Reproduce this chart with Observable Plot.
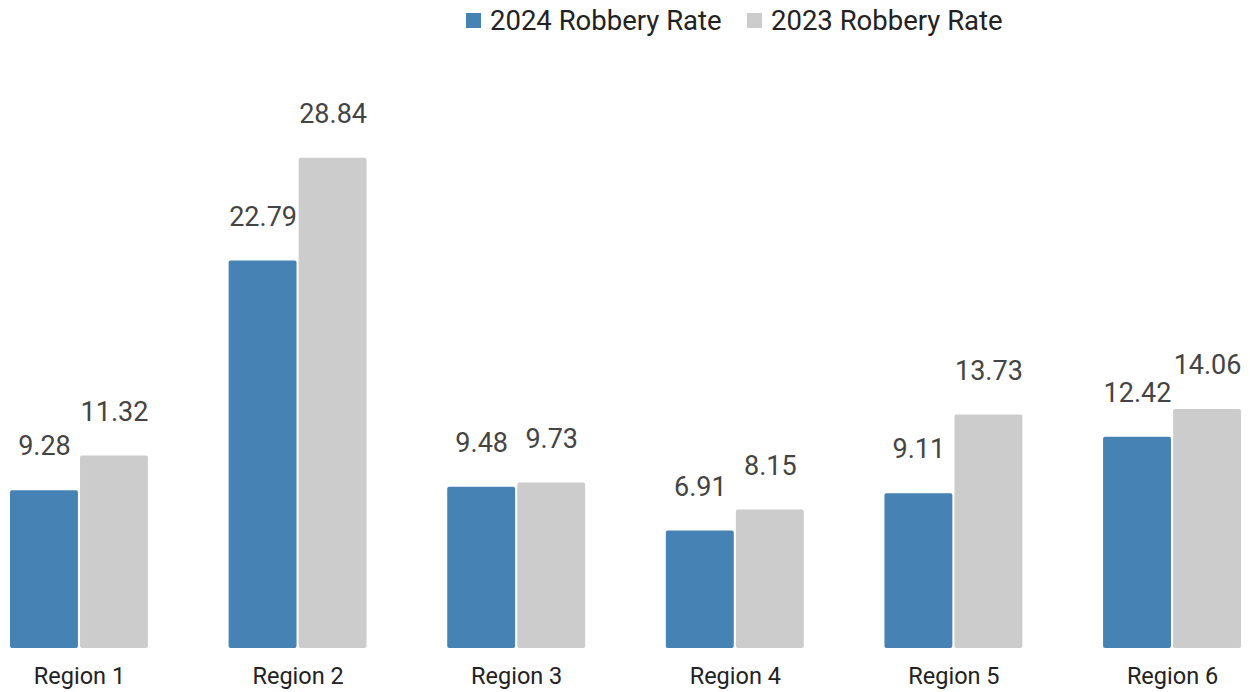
<!DOCTYPE html>
<html>
<head>
<meta charset="utf-8">
<script src="https://cdn.jsdelivr.net/npm/d3@7"></script>
<script src="https://cdn.jsdelivr.net/npm/@observablehq/plot@0.6"></script>
<style>
  html, body { margin: 0; padding: 0; background: #fff; overflow: hidden; }
  body { width: 1250px; height: 692px; font-family: Roboto, "Noto Sans", sans-serif; }
  #legend { height: 40px; position: relative; }
  .item { position: absolute; top: 0; height: 40px; display: flex; align-items: center; font-size: 27.5px; color: #222; }
  .sw { width: 15px; height: 15px; margin-right: 9px; display: inline-block; }
  svg { display: block; }
</style>
</head>
<body>
<div id="legend"></div>
<div id="chart"></div>
<script>
const regions = ["Region 1", "Region 2", "Region 3", "Region 4", "Region 5", "Region 6"];
const series = ["2024 Robbery Rate", "2023 Robbery Rate"];
const colors = ["#4682b4", "#cccccc"];
const rate2024 = [9.28, 22.79, 9.48, 6.91, 9.11, 12.42];
const rate2023 = [11.32, 28.84, 9.73, 8.15, 13.73, 14.06];

const data = [];
regions.forEach((r, i) => {
  data.push({region: r, series: series[0], value: rate2024[i]});
  data.push({region: r, series: series[1], value: rate2023[i]});
});

// legend
const legend = document.getElementById("legend");
const lefts = [466, 747];
series.forEach((s, i) => {
  const it = document.createElement("div");
  it.className = "item";
  it.style.left = lefts[i] + "px";
  const sw = document.createElement("span");
  sw.className = "sw";
  sw.style.background = colors[i];
  it.appendChild(sw);
  it.appendChild(document.createTextNode(s));
  legend.appendChild(it);
});

const chart = Plot.plot({
  width: 1250,
  height: 652,
  marginTop: 30,
  marginBottom: 44,
  marginLeft: 10,
  marginRight: 9,
  style: {fontFamily: "Roboto, sans-serif", background: "#fff"},
  fx: {domain: regions, paddingInner: 0.369, paddingOuter: 0, round: false, label: null, axis: "bottom", tickSize: 0, tickPadding: 19},
  x: {domain: series, paddingInner: 0.03, paddingOuter: 0, round: false, axis: null},
  y: {domain: [0, 34], axis: null},
  color: {domain: series, range: colors},
  marks: [
    Plot.barY(data, {fx: "region", x: "series", y: "value", fill: "series", rx: 2}),
    Plot.text(data, {fx: "region", x: "series", y: "value", text: d => d.value.toFixed(2), dy: -44, fontSize: 27, fill: "#444"})
  ]
});
chart.querySelectorAll("g[aria-label='fx-axis tick label']").forEach(e => { e.style.fontSize = "23.5px"; e.setAttribute("font-size", "23.5"); e.setAttribute("fill", "#222"); });
document.getElementById("chart").appendChild(chart);
</script>
</body>
</html>
